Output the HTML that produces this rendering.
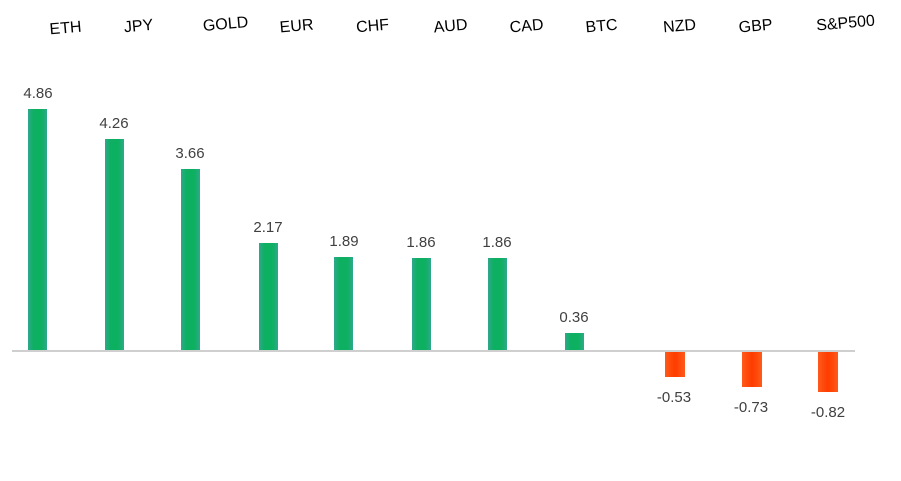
<!DOCTYPE html>
<html><head><style>
body{margin:0;background:#fff;width:901px;height:476px;overflow:hidden;font-family:"Liberation Sans",sans-serif;}
</style></head><body>
<svg width="901" height="476" xmlns="http://www.w3.org/2000/svg">
<defs>
<linearGradient id="g" x1="0" x2="1" y1="0" y2="0">
<stop offset="0" stop-color="#2fa88c"/><stop offset="0.3" stop-color="#0cb060"/><stop offset="0.7" stop-color="#0cb060"/><stop offset="1" stop-color="#2fa88c"/></linearGradient>
<linearGradient id="r" x1="0" x2="1" y1="0" y2="0">
<stop offset="0" stop-color="#ff5a1a"/><stop offset="0.5" stop-color="#ff3c00"/><stop offset="1" stop-color="#ff5a1a"/></linearGradient>
</defs>
<line x1="12" y1="351" x2="855" y2="351" stroke="#bfbfbf" stroke-width="1.5"/>
<g fill="url(#g)">
<rect x="28" y="109" width="19" height="241"/>
<rect x="105" y="139" width="19" height="211"/>
<rect x="181" y="169" width="19" height="181"/>
<rect x="259" y="243" width="19" height="107"/>
<rect x="334" y="257" width="19" height="93"/>
<rect x="412" y="258" width="19" height="92"/>
<rect x="488" y="258" width="19" height="92"/>
<rect x="565" y="333" width="19" height="17"/>
</g>
<g fill="url(#r)">
<rect x="665" y="352" width="20" height="25"/>
<rect x="742" y="352" width="20" height="35"/>
<rect x="818" y="352" width="20" height="40"/>
</g>
<g font-size="15" fill="#404040" text-anchor="middle">
<text x="38" y="98">4.86</text>
<text x="114" y="128">4.26</text>
<text x="190" y="158">3.66</text>
<text x="268" y="232">2.17</text>
<text x="344" y="246">1.89</text>
<text x="421" y="247">1.86</text>
<text x="497" y="247">1.86</text>
<text x="574" y="322">0.36</text>
<text x="674" y="402">-0.53</text>
<text x="751" y="412">-0.73</text>
<text x="828" y="417">-0.82</text>
</g>
<g font-size="16" fill="#000" text-anchor="middle">
<text transform="translate(66,33) rotate(-5)">ETH</text>
<text transform="translate(139,31) rotate(-5)">JPY</text>
<text transform="translate(226,29) rotate(-5)">GOLD</text>
<text transform="translate(297,31) rotate(-5)">EUR</text>
<text transform="translate(373,31) rotate(-5)">CHF</text>
<text transform="translate(451,31) rotate(-5)">AUD</text>
<text transform="translate(527,31) rotate(-5)">CAD</text>
<text transform="translate(602,31) rotate(-5)">BTC</text>
<text transform="translate(680,31) rotate(-5)">NZD</text>
<text transform="translate(756,31) rotate(-5)">GBP</text>
<text transform="translate(846,28) rotate(-5)">S&amp;P500</text>
</g>
</svg>
</body></html>
